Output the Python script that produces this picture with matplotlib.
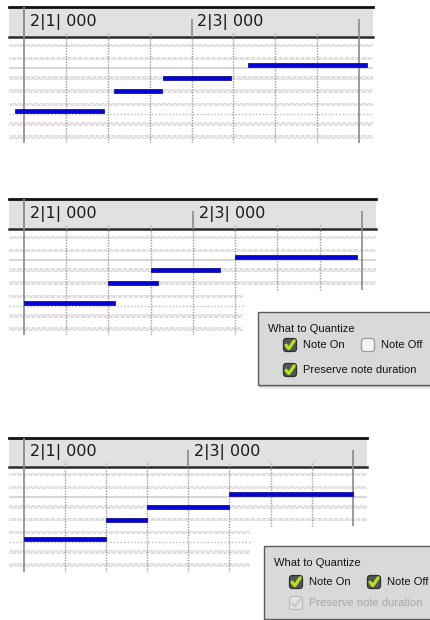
import matplotlib
matplotlib.use("Agg")
import matplotlib.pyplot as plt
from matplotlib.patches import FancyBboxPatch, Rectangle

W, H = 431, 620

# ---------------- data ----------------
note_pitches = [65, 68, 70, 72]
black_keys = [61, 63, 66, 68, 70, 73, 75]
orig_start = [-0.21, 2.15, 3.32, 5.35]
orig_end = [1.91, 3.29, 4.94, 8.19]
qon_start = [0, 2, 3, 5]
qon_end = [2.16, 3.16, 4.64, 7.88]
qboth_start = [0, 2, 3, 5]
qboth_end = [2, 3, 5, 8]
grid_divs = [0, 1, 2, 3, 4, 5, 6, 7, 8]
ruler_labels = ["2|1| 000", "2|3| 000"]
ruler_label_divs = [0, 4]
dialog_title = "What to Quantize"
opt_labels = ["Note On", "Note Off", "Preserve note duration"]
dlg2_checked = [True, False, True]
dlg2_enabled = [True, True, True]
dlg3_checked = [True, True, True]
dlg3_enabled = [True, True, False]

plt.rcParams["hatch.linewidth"] = 0.8
fig = plt.figure(figsize=(W / 100, H / 100), dpi=100)
fig.patch.set_facecolor("white")


def rect(x0, y0, x1, y1):
    return [x0 / W, 1 - y1 / H, (x1 - x0) / W, (y1 - y0) / H]


def clean(ax):
    ax.set_xticks([])
    ax.set_yticks([])
    for s in ax.spines.values():
        s.set_visible(False)


def panel(ht, hb, gb, L, R, x0, s, cy, u, starts, ends, cut=None):
    xlim = ((L - x0) / s, (R - x0) / s)
    # ruler
    axr = fig.add_axes(rect(L, ht, R, hb))
    clean(axr)
    axr.set_xlim(xlim)
    axr.set_ylim(0, 1)
    axr.set_facecolor("#e1e1e1")
    axr.axhline(1, color="#111111", lw=2.0, clip_on=False)
    axr.axhline(0, color="#2a2a2a", lw=1.8, clip_on=False)
    for d in grid_divs:
        if d == 0:
            axr.vlines(d, 0, 1, colors="#8a8a8a", lw=1.3)
        elif d in (4, 8):
            axr.vlines(d, 0, 0.6, colors="#8a8a8a", lw=1.2)
        else:
            axr.vlines(d, 0, 0.15, colors="#9a9a9a", lw=1.0, linestyles=(0, (1, 1)))
    for lab, d in zip(ruler_labels, ruler_label_divs):
        axr.text(d + 0.14, 0.5, lab, fontsize=11.5, va="center", ha="left",
                 color="#1a1a1a", family="DejaVu Sans")

    # grid
    ax = fig.add_axes(rect(L, hb, R, gb))
    clean(ax)
    pt = 72 + (cy - hb) / u
    pb = 72 - (gb - cy) / u
    ax.set_xlim(xlim)
    ax.set_ylim(pb, pt)
    ax.patch.set_alpha(0)
    cut_p, cut_x = (cut if cut else (pb - 1, xlim[1]))
    for p in black_keys:
        xmax = xlim[1] if p > cut_p else cut_x
        ax.fill_between([xlim[0], xmax], p - 0.26, p + 0.26, facecolor="#f2f2f2",
                        hatch="xxxxxx", edgecolor="#dadada", linewidth=0)
    ax.hlines(71.5, xlim[0], xlim[1], colors="#d6d6d6", lw=1.4)
    ax.hlines(64.5, xlim[0], xlim[1] if 64.5 > cut_p else cut_x, colors="#b8b8b8",
              lw=1.0, linestyles=(0, (1, 1.5)))
    for d in grid_divs:
        ymin = pb if (d <= cut_x or not cut) else cut_p
        if d == 0 or d == 8:
            ax.vlines(d, ymin, pt, colors="#8a8a8a", lw=1.2)
        else:
            ax.vlines(d, ymin, pt, colors="#9a9a9a", lw=1.0, linestyles=(0, (1, 1)))
    ax.barh(note_pitches, [e - b for b, e in zip(starts, ends)], left=starts,
            height=0.7, color="#0404d6", edgecolor="#000088", linewidth=0.5, zorder=5)


panel(7, 37, 143, 9, 373, 24, 41.9, 65, 6.55, orig_start, orig_end)
panel(199, 229, 335, 9, 376, 24, 42.25, 257, 6.55, qon_start, qon_end, cut=(66.9, 5.18))
panel(438, 467, 572, 9, 367, 24, 41.1, 494, 6.45, qboth_start, qboth_end, cut=(67.0, 5.5))

# ---------------- dialogs (UI overlay in pixel units) ----------------
ov = fig.add_axes([0, 0, 1, 1])
ov.set_xlim(0, W)
ov.set_ylim(H, 0)
ov.axis("off")
ov.patch.set_alpha(0)


def checkbox(cx, cy, checked, enabled):
    if enabled and checked:
        fc, ec, mc = "#555555", "#2e2e2e", "#b2e41c"
    elif enabled:
        fc, ec, mc = "#f4f4f4", "#9a9a9a", None
    else:
        fc, ec, mc = "#e2e2e2", "#bdbdbd", "#c4c4c4"
    ov.add_patch(FancyBboxPatch((cx - 6.5, cy - 6.5), 13, 13,
                                boxstyle="round,pad=0,rounding_size=2.8",
                                fc=fc, ec=ec, lw=0.9, zorder=12))
    if mc and checked:
        ov.plot([cx - 4, cx - 1.2, cx + 4.2], [cy + 0.2, cy + 3.6, cy - 4.2],
                color=mc, lw=2.3 if enabled else 1.2, solid_capstyle="round",
                solid_joinstyle="round", zorder=13)


def dialog(left, top, rows_y, checked, enabled):
    w, h = 220, 73
    for i, a in enumerate([0.10, 0.07, 0.04]):
        ov.add_patch(Rectangle((left + 1, top + 1 + i), w, h + 1, fc="black",
                               alpha=a, lw=0, zorder=9))
    ov.add_patch(Rectangle((left, top), w, h, fc="#d9d9d9", ec="#5c5c5c",
                           lw=1.0, zorder=10))
    ov.text(left + 10, top + 17, dialog_title, fontsize=8, family="Liberation Sans",
            va="center", ha="left", color="#111111", zorder=12)
    pos = [(left + 32, rows_y[0]), (left + 110, rows_y[0]), (left + 32, rows_y[1])]
    for (cx, cy), lab, c, e in zip(pos, opt_labels, checked, enabled):
        checkbox(cx, cy, c, e)
        ov.text(cx + 13.5, cy, lab, fontsize=8, family="Liberation Sans",
                va="center", ha="left", color="#111111" if e else "#a8a8a8", zorder=12)


dialog(258, 312, (345, 370), dlg2_checked, dlg2_enabled)
dialog(264, 546, (582, 603), dlg3_checked, dlg3_enabled)

fig.savefig("out.png", dpi=100, facecolor="white")
